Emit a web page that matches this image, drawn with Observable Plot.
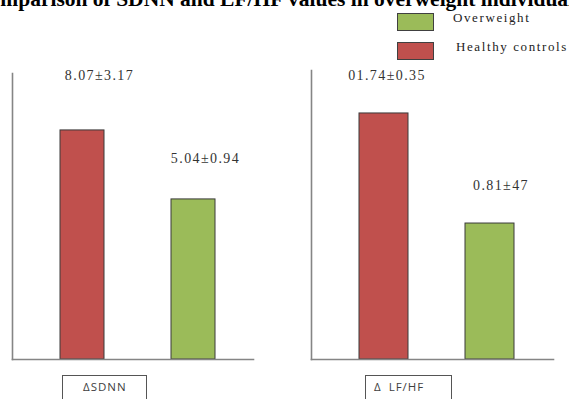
<!DOCTYPE html>
<html><head><meta charset="utf-8">
<script src="https://cdn.jsdelivr.net/npm/d3@7"></script>
<script src="https://cdn.jsdelivr.net/npm/@observablehq/plot@0.6"></script>
<style>
body{margin:0;background:#fff;}
#wrap{position:relative;width:569px;height:399px;overflow:hidden;background:#fff;}
#wrap svg{position:absolute;left:0;top:0;}
#wrap svg g[aria-label="text"] text{letter-spacing:1.4px;}
.title{position:absolute;left:-26px;top:-13px;font:bold 21.5px "Liberation Serif","Times New Roman",serif;white-space:nowrap;color:#000;}
.sw{position:absolute;width:35px;height:16px;border:1px solid #404040;}
.lt{position:absolute;font:13px "Liberation Serif",serif;letter-spacing:1.6px;color:#222;white-space:nowrap;}
.box{position:absolute;height:40px;border:1px solid #555;box-sizing:border-box;}
.bt{position:absolute;font:11.5px "Open Sans","DejaVu Sans",sans-serif;letter-spacing:1px;word-spacing:3px;color:#404040;white-space:nowrap;}
</style></head>
<body><div id="wrap"></div>
<script>
const titleText = "Comparison of SDNN and LF/HF values in overweight individuals";
const groups = ["Healthy controls", "Overweight"];
const groupColors = ["#C0504D", "#9BBB59"];
const sdnnMeans = [8.07, 5.04];
const sdnnLabels = ["8.07±3.17", "5.04±0.94"];
const lfhfMeans = [1.74, 0.81];
const lfhfLabels = ["01.74±0.35", "0.81±47"];
const panelNames = ["ΔSDNN", "Δ LF/HF"];
const legendOrder = ["Overweight", "Healthy controls"];

const wrap = document.getElementById("wrap");

function panel(means, labels, cfg) {
  const data = groups.map((g, i) => ({group: g, mean: means[i], label: labels[i]}));
  const y0 = cfg.yDomain[0];
  const textStyle = {x: "group", y: "mean", text: "label", fontFamily: "Liberation Serif, serif", fontSize: 14, fill: "#333"};
  return Plot.plot({
    width: 569, height: 399,
    marginLeft: cfg.left, marginRight: 569 - cfg.right, marginTop: cfg.top, marginBottom: 40,
    style: {background: "transparent"},
    x: {domain: groups, range: cfg.xRange, paddingInner: cfg.pad, paddingOuter: 0, axis: null},
    y: {domain: cfg.yDomain, axis: null},
    color: {domain: groups, range: groupColors},
    marks: [
      Plot.rectY(data, {x: "group", y1: () => y0, y2: "mean", fill: "group", stroke: "#3a3a3a", strokeWidth: 1}),
      Plot.frame({anchor: "left", stroke: "#858585", strokeWidth: 1.6}),
      Plot.frame({anchor: "bottom", stroke: "#858585", strokeWidth: 1.6}),
      Plot.text([data[0]], {...textStyle, dx: cfg.dx[0], dy: cfg.dy[0]}),
      Plot.text([data[1]], {...textStyle, dx: cfg.dx[1], dy: cfg.dy[1]})
    ]
  });
}

wrap.appendChild(panel(sdnnMeans, sdnnLabels, {
  left: 12, right: 253, top: 73, xRange: [60, 216], pad: 0.6,
  yDomain: [-1.99, 10.57], dx: [17, 12], dy: [-55, -41]
}));
wrap.appendChild(panel(lfhfMeans, lfhfLabels, {
  left: 311, right: 553, top: 70, xRange: [358, 514], pad: 0.542,
  yDomain: [-0.339, 2.103], dx: [3, 11], dy: [-38, -38]
}));

const t = document.createElement("div");
t.className = "title"; t.textContent = titleText; wrap.appendChild(t);

const swTop = [13, 42], txLeft = [453, 456], txTop = [10, 39];
legendOrder.forEach((name, i) => {
  const s = document.createElement("div");
  s.className = "sw";
  s.style.left = "397px"; s.style.top = swTop[i] + "px";
  s.style.background = groupColors[groups.indexOf(name)];
  wrap.appendChild(s);
  const l = document.createElement("div");
  l.className = "lt"; l.textContent = name;
  l.style.left = txLeft[i] + "px"; l.style.top = txTop[i] + "px";
  wrap.appendChild(l);
});

const boxLeft = [62, 365], boxW = [85, 87], btLeft = [83, 374];
panelNames.forEach((name, i) => {
  const b = document.createElement("div");
  b.className = "box"; b.style.left = boxLeft[i] + "px"; b.style.top = "375px"; b.style.width = boxW[i] + "px";
  wrap.appendChild(b);
  const s = document.createElement("div");
  s.className = "bt"; s.textContent = name; s.style.left = btLeft[i] + "px"; s.style.top = "379px";
  wrap.appendChild(s);
});
</script>
</body></html>
